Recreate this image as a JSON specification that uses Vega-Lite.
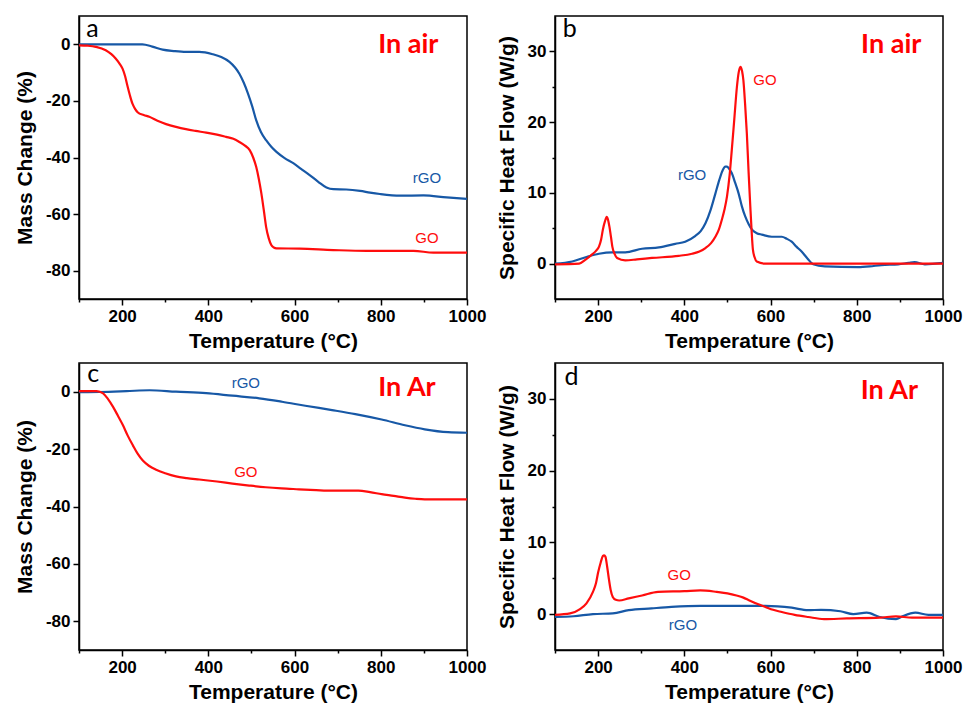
{
  "$schema": "https://vega.github.io/schema/vega-lite/v6.json",
  "padding": {"left": 13, "top": 15, "right": 5, "bottom": 2},
  "background": "white",
  "config": {
    "view": {"stroke": "black", "strokeWidth": 1.5},
    "axis": {"domainColor": "black", "domainWidth": 1.5, "tickColor": "black", "tickWidth": 1.5, "grid": false,
      "labelFont": "Liberation Sans", "labelFontWeight": "bold", "labelFontSize": 17, "labelColor": "black",
      "titleFont": "Liberation Sans", "titleFontWeight": "bold", "titleFontSize": 21, "titleColor": "black",
      "labelPadding": 3, "labelOverlap": false, "labelFlush": false}
  },
  "datasets": {
    "curves": [
      {"panel":"a","sample":"rGO","T":100,"v":0},{"panel":"a","sample":"rGO","T":150,"v":0},{"panel":"a","sample":"rGO","T":200,"v":0},{"panel":"a","sample":"rGO","T":247,"v":0},{"panel":"a","sample":"rGO","T":270,"v":-0.8},{"panel":"a","sample":"rGO","T":294,"v":-1.9},{"panel":"a","sample":"rGO","T":320,"v":-2.4},{"panel":"a","sample":"rGO","T":348,"v":-2.7},{"panel":"a","sample":"rGO","T":379,"v":-2.7},{"panel":"a","sample":"rGO","T":410,"v":-3.5},{"panel":"a","sample":"rGO","T":430,"v":-4.5},{"panel":"a","sample":"rGO","T":449,"v":-6.2},{"panel":"a","sample":"rGO","T":462,"v":-8.2},{"panel":"a","sample":"rGO","T":472,"v":-10.4},{"panel":"a","sample":"rGO","T":482,"v":-13.5},{"panel":"a","sample":"rGO","T":492,"v":-17.4},{"panel":"a","sample":"rGO","T":502,"v":-22},{"panel":"a","sample":"rGO","T":511,"v":-26.8},{"panel":"a","sample":"rGO","T":522,"v":-31},{"panel":"a","sample":"rGO","T":534,"v":-33.9},{"panel":"a","sample":"rGO","T":546,"v":-36.2},{"panel":"a","sample":"rGO","T":558,"v":-38},{"panel":"a","sample":"rGO","T":577,"v":-40.2},{"panel":"a","sample":"rGO","T":597,"v":-42},{"panel":"a","sample":"rGO","T":615,"v":-44},{"panel":"a","sample":"rGO","T":635,"v":-46.2},{"panel":"a","sample":"rGO","T":655,"v":-48.6},{"panel":"a","sample":"rGO","T":674,"v":-50.6},{"panel":"a","sample":"rGO","T":690,"v":-51.2},{"panel":"a","sample":"rGO","T":720,"v":-51.3},{"panel":"a","sample":"rGO","T":752,"v":-51.8},{"panel":"a","sample":"rGO","T":775,"v":-52.4},{"panel":"a","sample":"rGO","T":798,"v":-52.9},{"panel":"a","sample":"rGO","T":845,"v":-53.5},{"panel":"a","sample":"rGO","T":899,"v":-53.4},{"panel":"a","sample":"rGO","T":953,"v":-54.1},{"panel":"a","sample":"rGO","T":1000,"v":-54.6},
      {"panel":"a","sample":"GO","T":100,"v":-0.35},{"panel":"a","sample":"GO","T":120,"v":-0.5},{"panel":"a","sample":"GO","T":139,"v":-0.9},{"panel":"a","sample":"GO","T":162,"v":-2.1},{"panel":"a","sample":"GO","T":175,"v":-3.5},{"panel":"a","sample":"GO","T":185,"v":-5},{"panel":"a","sample":"GO","T":194,"v":-6.8},{"panel":"a","sample":"GO","T":201,"v":-8.6},{"panel":"a","sample":"GO","T":207,"v":-11.3},{"panel":"a","sample":"GO","T":212,"v":-14.5},{"panel":"a","sample":"GO","T":218,"v":-18},{"panel":"a","sample":"GO","T":224,"v":-21},{"panel":"a","sample":"GO","T":230,"v":-22.8},{"panel":"a","sample":"GO","T":236,"v":-24},{"panel":"a","sample":"GO","T":250,"v":-25},{"panel":"a","sample":"GO","T":263,"v":-25.6},{"panel":"a","sample":"GO","T":282,"v":-27},{"panel":"a","sample":"GO","T":302,"v":-28.2},{"panel":"a","sample":"GO","T":325,"v":-29.2},{"panel":"a","sample":"GO","T":348,"v":-30},{"panel":"a","sample":"GO","T":370,"v":-30.6},{"panel":"a","sample":"GO","T":395,"v":-31.2},{"panel":"a","sample":"GO","T":420,"v":-31.9},{"panel":"a","sample":"GO","T":441,"v":-32.7},{"panel":"a","sample":"GO","T":458,"v":-33.4},{"panel":"a","sample":"GO","T":472,"v":-34.5},{"panel":"a","sample":"GO","T":485,"v":-35.8},{"panel":"a","sample":"GO","T":496,"v":-37.4},{"panel":"a","sample":"GO","T":504,"v":-40},{"panel":"a","sample":"GO","T":511,"v":-43.3},{"panel":"a","sample":"GO","T":517,"v":-47.5},{"panel":"a","sample":"GO","T":523,"v":-52.7},{"panel":"a","sample":"GO","T":529,"v":-59},{"panel":"a","sample":"GO","T":534,"v":-64.5},{"panel":"a","sample":"GO","T":540,"v":-68.5},{"panel":"a","sample":"GO","T":546,"v":-70.9},{"panel":"a","sample":"GO","T":552,"v":-71.8},{"panel":"a","sample":"GO","T":558,"v":-72.1},{"panel":"a","sample":"GO","T":612,"v":-72.2},{"panel":"a","sample":"GO","T":690,"v":-72.7},{"panel":"a","sample":"GO","T":767,"v":-73},{"panel":"a","sample":"GO","T":876,"v":-73},{"panel":"a","sample":"GO","T":922,"v":-73.6},{"panel":"a","sample":"GO","T":1000,"v":-73.6},
      {"panel":"b","sample":"rGO","T":100,"v":0},{"panel":"b","sample":"rGO","T":140,"v":0.3},{"panel":"b","sample":"rGO","T":171,"v":0.9},{"panel":"b","sample":"rGO","T":202,"v":1.4},{"panel":"b","sample":"rGO","T":233,"v":1.6},{"panel":"b","sample":"rGO","T":263,"v":1.6},{"panel":"b","sample":"rGO","T":302,"v":2.1},{"panel":"b","sample":"rGO","T":341,"v":2.3},{"panel":"b","sample":"rGO","T":379,"v":2.8},{"panel":"b","sample":"rGO","T":402,"v":3.1},{"panel":"b","sample":"rGO","T":425,"v":3.9},{"panel":"b","sample":"rGO","T":438,"v":4.6},{"panel":"b","sample":"rGO","T":449,"v":5.7},{"panel":"b","sample":"rGO","T":461,"v":7.6},{"panel":"b","sample":"rGO","T":472,"v":9.9},{"panel":"b","sample":"rGO","T":481,"v":11.8},{"panel":"b","sample":"rGO","T":489,"v":13.2},{"panel":"b","sample":"rGO","T":495,"v":13.7},{"panel":"b","sample":"rGO","T":499,"v":13.7},{"panel":"b","sample":"rGO","T":504,"v":13.4},{"panel":"b","sample":"rGO","T":510,"v":12.8},{"panel":"b","sample":"rGO","T":518,"v":11.4},{"panel":"b","sample":"rGO","T":526,"v":9.9},{"panel":"b","sample":"rGO","T":533,"v":8.2},{"panel":"b","sample":"rGO","T":541,"v":6.7},{"panel":"b","sample":"rGO","T":549,"v":5.6},{"panel":"b","sample":"rGO","T":557,"v":4.8},{"panel":"b","sample":"rGO","T":568,"v":4.3},{"panel":"b","sample":"rGO","T":580,"v":4.1},{"panel":"b","sample":"rGO","T":603,"v":3.8},{"panel":"b","sample":"rGO","T":626,"v":3.8},{"panel":"b","sample":"rGO","T":638,"v":3.5},{"panel":"b","sample":"rGO","T":649,"v":3.1},{"panel":"b","sample":"rGO","T":660,"v":2.4},{"panel":"b","sample":"rGO","T":672,"v":1.7},{"panel":"b","sample":"rGO","T":686,"v":0.7},{"panel":"b","sample":"rGO","T":699,"v":-0.1},{"panel":"b","sample":"rGO","T":726,"v":-0.4},{"panel":"b","sample":"rGO","T":803,"v":-0.5},{"panel":"b","sample":"rGO","T":830,"v":-0.4},{"panel":"b","sample":"rGO","T":857,"v":-0.2},{"panel":"b","sample":"rGO","T":896,"v":-0.1},{"panel":"b","sample":"rGO","T":920,"v":0.1},{"panel":"b","sample":"rGO","T":934,"v":0.2},{"panel":"b","sample":"rGO","T":958,"v":-0.1},{"panel":"b","sample":"rGO","T":1000,"v":0.1},
      {"panel":"b","sample":"GO","T":100,"v":-0.1},{"panel":"b","sample":"GO","T":156,"v":0},{"panel":"b","sample":"GO","T":171,"v":0.56},{"panel":"b","sample":"GO","T":186,"v":1.3},{"panel":"b","sample":"GO","T":195,"v":1.8},{"panel":"b","sample":"GO","T":202,"v":2.4},{"panel":"b","sample":"GO","T":207,"v":3.4},{"panel":"b","sample":"GO","T":211,"v":4.8},{"panel":"b","sample":"GO","T":216,"v":6.0},{"panel":"b","sample":"GO","T":220,"v":6.6},{"panel":"b","sample":"GO","T":223,"v":6.2},{"panel":"b","sample":"GO","T":226,"v":5.3},{"panel":"b","sample":"GO","T":230,"v":3.7},{"panel":"b","sample":"GO","T":233,"v":2.4},{"panel":"b","sample":"GO","T":238,"v":1.4},{"panel":"b","sample":"GO","T":244,"v":0.8},{"panel":"b","sample":"GO","T":263,"v":0.47},{"panel":"b","sample":"GO","T":290,"v":0.6},{"panel":"b","sample":"GO","T":325,"v":0.8},{"panel":"b","sample":"GO","T":387,"v":1.1},{"panel":"b","sample":"GO","T":418,"v":1.4},{"panel":"b","sample":"GO","T":435,"v":1.7},{"panel":"b","sample":"GO","T":449,"v":2.2},{"panel":"b","sample":"GO","T":462,"v":2.9},{"panel":"b","sample":"GO","T":472,"v":3.8},{"panel":"b","sample":"GO","T":480,"v":4.8},{"panel":"b","sample":"GO","T":487,"v":6.2},{"panel":"b","sample":"GO","T":493,"v":7.6},{"panel":"b","sample":"GO","T":499,"v":9.5},{"panel":"b","sample":"GO","T":505,"v":12.5},{"panel":"b","sample":"GO","T":510,"v":16},{"panel":"b","sample":"GO","T":516,"v":20.5},{"panel":"b","sample":"GO","T":522,"v":25},{"panel":"b","sample":"GO","T":526,"v":27},{"panel":"b","sample":"GO","T":530,"v":27.8},{"panel":"b","sample":"GO","T":534,"v":27.2},{"panel":"b","sample":"GO","T":537,"v":25.9},{"panel":"b","sample":"GO","T":541,"v":22.5},{"panel":"b","sample":"GO","T":545,"v":18.4},{"panel":"b","sample":"GO","T":549,"v":13},{"panel":"b","sample":"GO","T":553,"v":8.1},{"panel":"b","sample":"GO","T":556,"v":4.7},{"panel":"b","sample":"GO","T":559,"v":2},{"panel":"b","sample":"GO","T":563,"v":0.9},{"panel":"b","sample":"GO","T":568,"v":0.3},{"panel":"b","sample":"GO","T":587,"v":0},{"panel":"b","sample":"GO","T":1000,"v":0},
      {"panel":"c","sample":"rGO","T":100,"v":-0.2},{"panel":"c","sample":"rGO","T":148,"v":-0.1},{"panel":"c","sample":"rGO","T":210,"v":0.2},{"panel":"c","sample":"rGO","T":264,"v":0.5},{"panel":"c","sample":"rGO","T":325,"v":0},{"panel":"c","sample":"rGO","T":395,"v":-0.5},{"panel":"c","sample":"rGO","T":456,"v":-1.4},{"panel":"c","sample":"rGO","T":518,"v":-2.3},{"panel":"c","sample":"rGO","T":571,"v":-3.5},{"panel":"c","sample":"rGO","T":625,"v":-4.9},{"panel":"c","sample":"rGO","T":687,"v":-6.4},{"panel":"c","sample":"rGO","T":741,"v":-7.8},{"panel":"c","sample":"rGO","T":802,"v":-9.7},{"panel":"c","sample":"rGO","T":856,"v":-11.7},{"panel":"c","sample":"rGO","T":902,"v":-13.1},{"panel":"c","sample":"rGO","T":956,"v":-14.1},{"panel":"c","sample":"rGO","T":1000,"v":-14.3},
      {"panel":"c","sample":"GO","T":100,"v":0.2},{"panel":"c","sample":"GO","T":141,"v":0.2},{"panel":"c","sample":"GO","T":156,"v":-0.6},{"panel":"c","sample":"GO","T":167,"v":-2.5},{"panel":"c","sample":"GO","T":179,"v":-5.3},{"panel":"c","sample":"GO","T":190,"v":-8.3},{"panel":"c","sample":"GO","T":202,"v":-11.7},{"panel":"c","sample":"GO","T":213,"v":-15.3},{"panel":"c","sample":"GO","T":225,"v":-18.7},{"panel":"c","sample":"GO","T":236,"v":-21.6},{"panel":"c","sample":"GO","T":248,"v":-24},{"panel":"c","sample":"GO","T":262,"v":-25.8},{"panel":"c","sample":"GO","T":279,"v":-27.2},{"panel":"c","sample":"GO","T":300,"v":-28.4},{"panel":"c","sample":"GO","T":325,"v":-29.5},{"panel":"c","sample":"GO","T":350,"v":-30.1},{"panel":"c","sample":"GO","T":379,"v":-30.6},{"panel":"c","sample":"GO","T":420,"v":-31.3},{"panel":"c","sample":"GO","T":456,"v":-32},{"panel":"c","sample":"GO","T":495,"v":-32.7},{"panel":"c","sample":"GO","T":533,"v":-33.3},{"panel":"c","sample":"GO","T":570,"v":-33.7},{"panel":"c","sample":"GO","T":610,"v":-34},{"panel":"c","sample":"GO","T":650,"v":-34.3},{"panel":"c","sample":"GO","T":687,"v":-34.5},{"panel":"c","sample":"GO","T":748,"v":-34.5},{"panel":"c","sample":"GO","T":775,"v":-35},{"panel":"c","sample":"GO","T":802,"v":-35.7},{"panel":"c","sample":"GO","T":830,"v":-36.3},{"panel":"c","sample":"GO","T":856,"v":-36.9},{"panel":"c","sample":"GO","T":880,"v":-37.3},{"panel":"c","sample":"GO","T":902,"v":-37.5},{"panel":"c","sample":"GO","T":1000,"v":-37.5},
      {"panel":"d","sample":"rGO","T":100,"v":-0.4},{"panel":"d","sample":"rGO","T":143,"v":-0.3},{"panel":"d","sample":"rGO","T":188,"v":0},{"panel":"d","sample":"rGO","T":234,"v":0.1},{"panel":"d","sample":"rGO","T":271,"v":0.55},{"panel":"d","sample":"rGO","T":324,"v":0.8},{"panel":"d","sample":"rGO","T":370,"v":1},{"panel":"d","sample":"rGO","T":437,"v":1.15},{"panel":"d","sample":"rGO","T":513,"v":1.15},{"panel":"d","sample":"rGO","T":588,"v":1.15},{"panel":"d","sample":"rGO","T":649,"v":0.9},{"panel":"d","sample":"rGO","T":687,"v":0.55},{"panel":"d","sample":"rGO","T":717,"v":0.6},{"panel":"d","sample":"rGO","T":762,"v":0.4},{"panel":"d","sample":"rGO","T":792,"v":0},{"panel":"d","sample":"rGO","T":823,"v":0.2},{"panel":"d","sample":"rGO","T":853,"v":-0.4},{"panel":"d","sample":"rGO","T":891,"v":-0.7},{"panel":"d","sample":"rGO","T":906,"v":-0.3},{"panel":"d","sample":"rGO","T":936,"v":0.2},{"panel":"d","sample":"rGO","T":966,"v":-0.1},{"panel":"d","sample":"rGO","T":1000,"v":-0.1},
      {"panel":"d","sample":"GO","T":100,"v":-0.1},{"panel":"d","sample":"GO","T":135,"v":0.1},{"panel":"d","sample":"GO","T":158,"v":0.7},{"panel":"d","sample":"GO","T":173,"v":1.5},{"panel":"d","sample":"GO","T":188,"v":3.1},{"panel":"d","sample":"GO","T":195,"v":4.3},{"panel":"d","sample":"GO","T":200,"v":5.8},{"panel":"d","sample":"GO","T":206,"v":7.2},{"panel":"d","sample":"GO","T":211,"v":8.1},{"panel":"d","sample":"GO","T":214,"v":8.2},{"panel":"d","sample":"GO","T":217,"v":8},{"panel":"d","sample":"GO","T":221,"v":6.6},{"panel":"d","sample":"GO","T":225,"v":4.9},{"panel":"d","sample":"GO","T":229,"v":3.4},{"panel":"d","sample":"GO","T":234,"v":2.4},{"panel":"d","sample":"GO","T":241,"v":2},{"panel":"d","sample":"GO","T":249,"v":1.9},{"panel":"d","sample":"GO","T":271,"v":2.2},{"panel":"d","sample":"GO","T":302,"v":2.6},{"panel":"d","sample":"GO","T":339,"v":3.1},{"panel":"d","sample":"GO","T":400,"v":3.2},{"panel":"d","sample":"GO","T":437,"v":3.3},{"panel":"d","sample":"GO","T":475,"v":3.1},{"panel":"d","sample":"GO","T":500,"v":2.9},{"panel":"d","sample":"GO","T":521,"v":2.6},{"panel":"d","sample":"GO","T":537,"v":2.3},{"panel":"d","sample":"GO","T":551,"v":1.9},{"panel":"d","sample":"GO","T":570,"v":1.4},{"panel":"d","sample":"GO","T":588,"v":1},{"panel":"d","sample":"GO","T":606,"v":0.6},{"panel":"d","sample":"GO","T":626,"v":0.3},{"panel":"d","sample":"GO","T":656,"v":-0.1},{"panel":"d","sample":"GO","T":687,"v":-0.4},{"panel":"d","sample":"GO","T":724,"v":-0.7},{"panel":"d","sample":"GO","T":777,"v":-0.6},{"panel":"d","sample":"GO","T":853,"v":-0.5},{"panel":"d","sample":"GO","T":891,"v":-0.3},{"panel":"d","sample":"GO","T":928,"v":-0.5},{"panel":"d","sample":"GO","T":1000,"v":-0.5}
    ],
    "notes": [
      {"panel":"a","kind":"sample","sample":"rGO","text":"rGO","T":907,"v":-47.4},
      {"panel":"a","kind":"sample","sample":"GO","text":"GO","T":907,"v":-68.6},
      {"panel":"a","kind":"cond","text":"In air","T":794,"v":-2.9},
      {"panel":"a","kind":"letter","text":"a","T":117,"v":2.6},
      {"panel":"b","kind":"sample","sample":"GO","text":"GO","T":587,"v":25.9},
      {"panel":"b","kind":"sample","sample":"rGO","text":"rGO","T":418,"v":12.5},
      {"panel":"b","kind":"cond","text":"In air","T":810,"v":29.8},
      {"panel":"b","kind":"letter","text":"b","T":118,"v":32},
      {"panel":"c","kind":"sample","sample":"rGO","text":"rGO","T":487,"v":2.9},
      {"panel":"c","kind":"sample","sample":"GO","text":"GO","T":487,"v":-28.1},
      {"panel":"c","kind":"cond","text":"In Ar","T":794,"v":-1.5},
      {"panel":"c","kind":"letter","text":"c","T":119,"v":3.5},
      {"panel":"d","kind":"sample","sample":"GO","text":"GO","T":388,"v":5.4},
      {"panel":"d","kind":"sample","sample":"rGO","text":"rGO","T":397,"v":-1.5},
      {"panel":"d","kind":"cond","text":"In Ar","T":809,"v":30},
      {"panel":"d","kind":"letter","text":"d","T":122,"v":32}
    ]
  },
  "columns": 2,
  "spacing": {"row": 64, "column": 88},
  "bounds": "flush",
  "concat": [
    {
      "width": 388, "height": 283,
      "layer": [
        {"data": {"name": "curves"}, "transform": [{"filter": "datum.panel == 'a'"}],
         "mark": {"type": "line", "strokeWidth": 2.2, "interpolate": "monotone", "clip": true},
         "encoding": {
           "x": {"field": "T", "type": "quantitative", "scale": {"domain": [100, 1000], "nice": false},
                 "axis": {"title": "Temperature (°C)", "values": [100,200,300,400,500,600,700,800,900,1000], "labelExpr": "datum.value % 200 == 0 ? '' + datum.value : ''", "tickSize": {"condition": {"test": "datum.value % 200 == 0", "value": 6}, "value": 3}, "titlePadding": 6}},
           "y": {"field": "v", "type": "quantitative", "scale": {"domain": [-90, 10], "nice": false},
                 "axis": {"title": "Mass Change (%)", "values": [-80,-70,-60,-50,-40,-30,-20,-10,0], "labelExpr": "datum.value % 20 == 0 ? '' + datum.value : ''", "tickSize": {"condition": {"test": "datum.value % 20 == 0", "value": 6}, "value": 3}, "titlePadding": 10}},
           "color": {"field": "sample", "type": "nominal", "scale": {"domain": ["GO", "rGO"], "range": ["#ff0d0d", "#1758a6"]}, "legend": null}
         }},
        {"data": {"name": "notes"}, "transform": [{"filter": "datum.panel == 'a' && datum.kind == 'sample'"}],
         "mark": {"type": "text", "font": "Liberation Sans", "fontSize": 15, "align": "center", "baseline": "middle"},
         "encoding": {"x": {"field": "T", "type": "quantitative"}, "y": {"field": "v", "type": "quantitative"}, "text": {"field": "text"}, "color": {"field": "sample", "type": "nominal"}}},
        {"data": {"name": "notes"}, "transform": [{"filter": "datum.panel == 'a' && datum.kind == 'cond'"}],
         "mark": {"type": "text", "font": "Lato", "fontWeight": "bold", "fontSize": 27, "align": "left", "baseline": "alphabetic", "color": "#ff0000"},
         "encoding": {"x": {"field": "T", "type": "quantitative"}, "y": {"field": "v", "type": "quantitative"}, "text": {"field": "text"}}},
        {"data": {"name": "notes"}, "transform": [{"filter": "datum.panel == 'a' && datum.kind == 'letter'"}],
         "mark": {"type": "text", "font": "Lato", "fontSize": 25, "align": "left", "baseline": "alphabetic", "color": "black"},
         "encoding": {"x": {"field": "T", "type": "quantitative"}, "y": {"field": "v", "type": "quantitative"}, "text": {"field": "text"}}}
      ]
    },
    {
      "width": 388, "height": 283,
      "layer": [
        {"data": {"name": "curves"}, "transform": [{"filter": "datum.panel == 'b'"}],
         "mark": {"type": "line", "strokeWidth": 2.2, "interpolate": "monotone", "clip": true},
         "encoding": {
           "x": {"field": "T", "type": "quantitative", "scale": {"domain": [100, 1000], "nice": false},
                 "axis": {"title": "Temperature (°C)", "values": [100,200,300,400,500,600,700,800,900,1000], "labelExpr": "datum.value % 200 == 0 ? '' + datum.value : ''", "tickSize": {"condition": {"test": "datum.value % 200 == 0", "value": 6}, "value": 3}, "titlePadding": 6}},
           "y": {"field": "v", "type": "quantitative", "scale": {"domain": [-5, 35], "nice": false},
                 "axis": {"title": "Specific Heat Flow (W/g)", "values": [0,5,10,15,20,25,30], "labelExpr": "datum.value % 10 == 0 ? '' + datum.value : ''", "tickSize": {"condition": {"test": "datum.value % 10 == 0", "value": 6}, "value": 3}, "titlePadding": 10}},
           "color": {"field": "sample", "type": "nominal", "scale": {"domain": ["GO", "rGO"], "range": ["#ff0d0d", "#1758a6"]}, "legend": null}
         }},
        {"data": {"name": "notes"}, "transform": [{"filter": "datum.panel == 'b' && datum.kind == 'sample'"}],
         "mark": {"type": "text", "font": "Liberation Sans", "fontSize": 15, "align": "center", "baseline": "middle"},
         "encoding": {"x": {"field": "T", "type": "quantitative"}, "y": {"field": "v", "type": "quantitative"}, "text": {"field": "text"}, "color": {"field": "sample", "type": "nominal"}}},
        {"data": {"name": "notes"}, "transform": [{"filter": "datum.panel == 'b' && datum.kind == 'cond'"}],
         "mark": {"type": "text", "font": "Lato", "fontWeight": "bold", "fontSize": 27, "align": "left", "baseline": "alphabetic", "color": "#ff0000"},
         "encoding": {"x": {"field": "T", "type": "quantitative"}, "y": {"field": "v", "type": "quantitative"}, "text": {"field": "text"}}},
        {"data": {"name": "notes"}, "transform": [{"filter": "datum.panel == 'b' && datum.kind == 'letter'"}],
         "mark": {"type": "text", "font": "Lato", "fontSize": 25, "align": "left", "baseline": "alphabetic", "color": "black"},
         "encoding": {"x": {"field": "T", "type": "quantitative"}, "y": {"field": "v", "type": "quantitative"}, "text": {"field": "text"}}}
      ]
    },
    {
      "width": 388, "height": 287,
      "layer": [
        {"data": {"name": "curves"}, "transform": [{"filter": "datum.panel == 'c'"}],
         "mark": {"type": "line", "strokeWidth": 2.2, "interpolate": "monotone", "clip": true},
         "encoding": {
           "x": {"field": "T", "type": "quantitative", "scale": {"domain": [100, 1000], "nice": false},
                 "axis": {"title": "Temperature (°C)", "values": [100,200,300,400,500,600,700,800,900,1000], "labelExpr": "datum.value % 200 == 0 ? '' + datum.value : ''", "tickSize": {"condition": {"test": "datum.value % 200 == 0", "value": 6}, "value": 3}, "titlePadding": 6}},
           "y": {"field": "v", "type": "quantitative", "scale": {"domain": [-90, 10], "nice": false},
                 "axis": {"title": "Mass Change (%)", "values": [-80,-70,-60,-50,-40,-30,-20,-10,0], "labelExpr": "datum.value % 20 == 0 ? '' + datum.value : ''", "tickSize": {"condition": {"test": "datum.value % 20 == 0", "value": 6}, "value": 3}, "titlePadding": 10}},
           "color": {"field": "sample", "type": "nominal", "scale": {"domain": ["GO", "rGO"], "range": ["#ff0d0d", "#1758a6"]}, "legend": null}
         }},
        {"data": {"name": "notes"}, "transform": [{"filter": "datum.panel == 'c' && datum.kind == 'sample'"}],
         "mark": {"type": "text", "font": "Liberation Sans", "fontSize": 15, "align": "center", "baseline": "middle"},
         "encoding": {"x": {"field": "T", "type": "quantitative"}, "y": {"field": "v", "type": "quantitative"}, "text": {"field": "text"}, "color": {"field": "sample", "type": "nominal"}}},
        {"data": {"name": "notes"}, "transform": [{"filter": "datum.panel == 'c' && datum.kind == 'cond'"}],
         "mark": {"type": "text", "font": "Lato", "fontWeight": "bold", "fontSize": 27, "align": "left", "baseline": "alphabetic", "color": "#ff0000"},
         "encoding": {"x": {"field": "T", "type": "quantitative"}, "y": {"field": "v", "type": "quantitative"}, "text": {"field": "text"}}},
        {"data": {"name": "notes"}, "transform": [{"filter": "datum.panel == 'c' && datum.kind == 'letter'"}],
         "mark": {"type": "text", "font": "Lato", "fontSize": 25, "align": "left", "baseline": "alphabetic", "color": "black"},
         "encoding": {"x": {"field": "T", "type": "quantitative"}, "y": {"field": "v", "type": "quantitative"}, "text": {"field": "text"}}}
      ]
    },
    {
      "width": 388, "height": 287,
      "layer": [
        {"data": {"name": "curves"}, "transform": [{"filter": "datum.panel == 'd'"}],
         "mark": {"type": "line", "strokeWidth": 2.2, "interpolate": "monotone", "clip": true},
         "encoding": {
           "x": {"field": "T", "type": "quantitative", "scale": {"domain": [100, 1000], "nice": false},
                 "axis": {"title": "Temperature (°C)", "values": [100,200,300,400,500,600,700,800,900,1000], "labelExpr": "datum.value % 200 == 0 ? '' + datum.value : ''", "tickSize": {"condition": {"test": "datum.value % 200 == 0", "value": 6}, "value": 3}, "titlePadding": 6}},
           "y": {"field": "v", "type": "quantitative", "scale": {"domain": [-5, 35], "nice": false},
                 "axis": {"title": "Specific Heat Flow (W/g)", "values": [0,5,10,15,20,25,30], "labelExpr": "datum.value % 10 == 0 ? '' + datum.value : ''", "tickSize": {"condition": {"test": "datum.value % 10 == 0", "value": 6}, "value": 3}, "titlePadding": 10}},
           "color": {"field": "sample", "type": "nominal", "scale": {"domain": ["GO", "rGO"], "range": ["#ff0d0d", "#1758a6"]}, "legend": null}
         }},
        {"data": {"name": "notes"}, "transform": [{"filter": "datum.panel == 'd' && datum.kind == 'sample'"}],
         "mark": {"type": "text", "font": "Liberation Sans", "fontSize": 15, "align": "center", "baseline": "middle"},
         "encoding": {"x": {"field": "T", "type": "quantitative"}, "y": {"field": "v", "type": "quantitative"}, "text": {"field": "text"}, "color": {"field": "sample", "type": "nominal"}}},
        {"data": {"name": "notes"}, "transform": [{"filter": "datum.panel == 'd' && datum.kind == 'cond'"}],
         "mark": {"type": "text", "font": "Lato", "fontWeight": "bold", "fontSize": 27, "align": "left", "baseline": "alphabetic", "color": "#ff0000"},
         "encoding": {"x": {"field": "T", "type": "quantitative"}, "y": {"field": "v", "type": "quantitative"}, "text": {"field": "text"}}},
        {"data": {"name": "notes"}, "transform": [{"filter": "datum.panel == 'd' && datum.kind == 'letter'"}],
         "mark": {"type": "text", "font": "Lato", "fontSize": 25, "align": "left", "baseline": "alphabetic", "color": "black"},
         "encoding": {"x": {"field": "T", "type": "quantitative"}, "y": {"field": "v", "type": "quantitative"}, "text": {"field": "text"}}}
      ]
    }
  ]
}
